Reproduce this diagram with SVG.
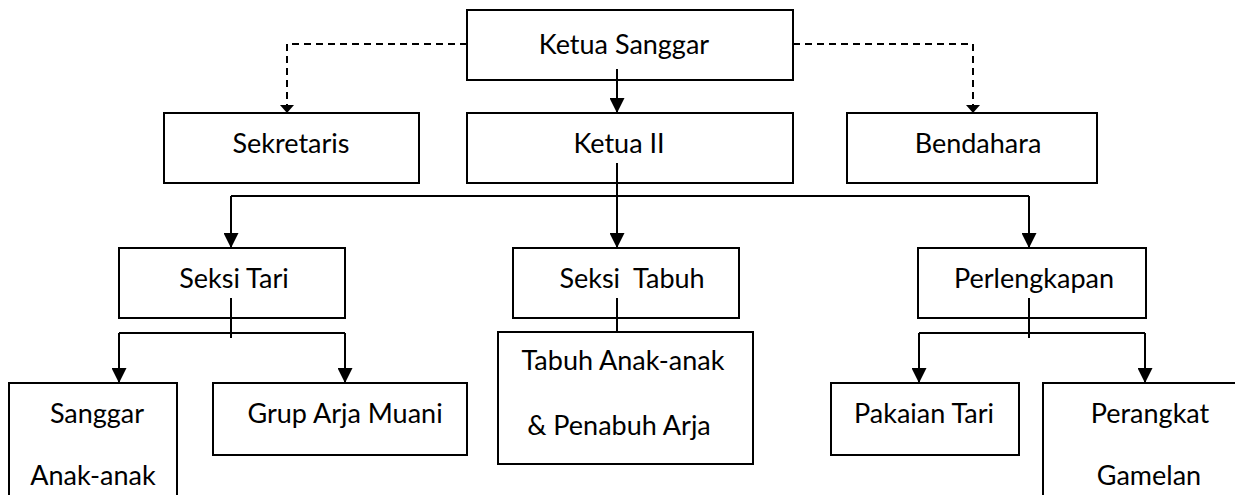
<svg xmlns="http://www.w3.org/2000/svg" width="1235" height="495" viewBox="0 0 1235 495">
<style>
.box{fill:#fff;stroke:#000;stroke-width:2}
.t{font-family:Lato,"Open Sans",sans-serif;font-size:27px;fill:#000;text-anchor:middle;white-space:pre}
.c{fill:none;stroke:#000;stroke-width:2}
.d{fill:none;stroke:#000;stroke-width:2;stroke-dasharray:7 5}
</style>
<defs>
<marker id="arr" viewBox="0 0 15 15" refX="15" refY="7.5" markerWidth="15" markerHeight="15" markerUnits="userSpaceOnUse" orient="auto">
<path d="M0,0 L15,7.5 L0,15 Z" fill="#000"/>
</marker>
<marker id="arrs" viewBox="0 0 8 14" refX="8" refY="7" markerWidth="8" markerHeight="14" markerUnits="userSpaceOnUse" orient="auto">
<path d="M0,0 L8,7 L0,14 Z" fill="#000"/>
</marker>
</defs>
<rect width="1235" height="495" fill="#fff"/>
<g id="n-ketua-sanggar"><rect class="box" x="467" y="10" width="326" height="70"/><text class="t" x="624" y="54">Ketua Sanggar</text></g>
<g id="n-sekretaris"><rect class="box" x="164" y="113" width="255" height="70"/><text class="t" x="291" y="153">Sekretaris</text></g>
<g id="n-ketua-ii"><rect class="box" x="467" y="113" width="326" height="70"/><text class="t" x="619" y="153">Ketua II</text></g>
<g id="n-bendahara"><rect class="box" x="847" y="113" width="250" height="70"/><text class="t" x="978" y="153">Bendahara</text></g>
<g id="n-seksi-tari"><rect class="box" x="119" y="248" width="226" height="70"/><text class="t" x="234" y="288">Seksi Tari</text></g>
<g id="n-seksi-tabuh"><rect class="box" x="513" y="248" width="226" height="70"/><text class="t" x="632" y="288">Seksi  Tabuh</text></g>
<g id="n-perlengkapan"><rect class="box" x="918" y="248" width="228" height="70"/><text class="t" x="1034" y="288">Perlengkapan</text></g>
<g id="n-sanggar-anak"><rect class="box" x="9" y="383" width="168" height="130"/><text class="t" x="97" y="423">Sanggar</text><text class="t" x="93" y="485">Anak-anak</text></g>
<g id="n-grup-arja"><rect class="box" x="213" y="383" width="254" height="72"/><text class="t" x="345" y="423">Grup Arja Muani</text></g>
<g id="n-tabuh-anak"><rect class="box" x="498" y="332" width="255" height="132"/><text class="t" x="623" y="370">Tabuh Anak-anak</text><text class="t" x="619" y="435">&amp; Penabuh Arja</text></g>
<g id="n-pakaian"><rect class="box" x="831" y="383" width="188" height="72"/><text class="t" x="924" y="423">Pakaian Tari</text></g>
<g id="n-perangkat"><rect class="box" x="1043" y="383" width="220" height="130"/><text class="t" x="1150" y="423">Perangkat</text><text class="t" x="1149" y="485">Gamelan</text></g>
<g id="connectors">
<path class="d" d="M467,44 H287 V113" marker-end="url(#arrs)"/>
<path class="d" d="M793,44 H973 V113" marker-end="url(#arrs)"/>
<path class="c" d="M617,69 V113" marker-end="url(#arr)"/>
<path class="c" d="M617,163 V248" marker-end="url(#arr)"/>
<path class="c" d="M231,196 H1029"/>
<path class="c" d="M231,196 V248" marker-end="url(#arr)"/>
<path class="c" d="M1029,196 V248" marker-end="url(#arr)"/>
<path class="c" d="M231,298 V338"/>
<path class="c" d="M119,333 H345"/>
<path class="c" d="M119,333 V383" marker-end="url(#arr)"/>
<path class="c" d="M345,333 V383" marker-end="url(#arr)"/>
<path class="c" d="M617,298 V332"/>
<path class="c" d="M1029,298 V338"/>
<path class="c" d="M919,333 H1145"/>
<path class="c" d="M919,333 V383" marker-end="url(#arr)"/>
<path class="c" d="M1145,333 V383" marker-end="url(#arr)"/>
</g>
</svg>
